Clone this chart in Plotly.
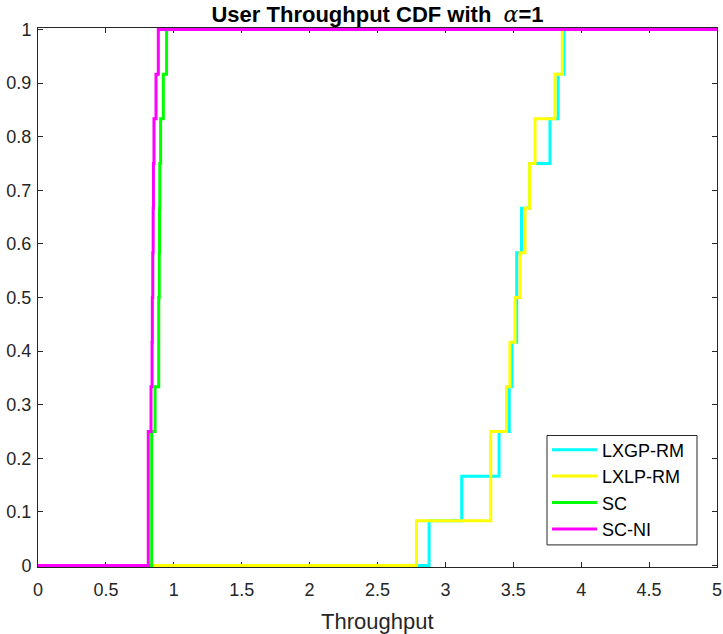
import plotly.graph_objects as go

# Sorted per-user throughput samples (12 users); CDF jumps by 1/12 at each
lxgp_rm = [2.88, 3.12, 3.395, 3.47, 3.49, 3.525, 3.525, 3.56, 3.62, 3.77, 3.83, 3.873]
lxlp_rm = [2.787, 3.334, 3.334, 3.45, 3.475, 3.513, 3.55, 3.586, 3.62, 3.66, 3.807, 3.861]
sc = [0.837, 0.837, 0.837, 0.862, 0.889, 0.889, 0.893, 0.895, 0.897, 0.903, 0.923, 0.947]
sc_ni = [0.812, 0.812, 0.812, 0.832, 0.84, 0.842, 0.845, 0.848, 0.85, 0.854, 0.869, 0.886]

names = ["LXGP-RM", "LXLP-RM", "SC", "SC-NI"]
colors = ["#00FFFF", "#FFFF00", "#00FF00", "#FF00FF"]
series = [lxgp_rm, lxlp_rm, sc, sc_ni]

x_min, x_max = 0, 5
x_ticks = [0, 0.5, 1, 1.5, 2, 2.5, 3, 3.5, 4, 4.5, 5]
y_ticks = [0, 0.1, 0.2, 0.3, 0.4, 0.5, 0.6, 0.7, 0.8, 0.9, 1]

FONT = "Liberation Sans, Arial, Helvetica"
PAD = 1.5 / 537  # half line width so lines on y=0 / y=1 are not clipped

fig = go.Figure()
for name, color, vals in zip(names, colors, series):
    n = len(vals)
    xs = [x_min] + list(vals) + [x_max]
    ys = [0] + [(k + 1) / n for k in range(n)] + [1]
    fig.add_trace(go.Scatter(x=xs, y=ys, mode="lines", name=name,
                             line=dict(color=color, width=3, shape="hv")))

axis_common = dict(showline=True, linecolor="#262626", linewidth=1, mirror="ticks",
                   ticks="inside", ticklen=5, tickcolor="#262626", tickwidth=1,
                   showgrid=False, zeroline=False, automargin=False, layer="below traces",
                   tickfont=dict(family=FONT, size=18, color="#262626"))

# legend box (paper coordinates of the plot area)
def px_x(p):
    return (p - 38) / 679

def px_y(p):
    return (566 - p) / 537

fig.update_layout(
    width=723, height=634,
    margin=dict(l=38, r=6, t=27.5, b=66.5),
    paper_bgcolor="white", plot_bgcolor="white",
    title=dict(text="<b>User Throughput CDF with  <span style='font-family:DejaVu Serif;font-style:italic;font-weight:normal'>α</span>=1</b>",
               x=(38 + 717) / 2 / 723, xanchor="center", y=1 - 14 / 634, yanchor="middle",
               font=dict(family=FONT, size=22, color="black")),
    xaxis=dict(range=[x_min, x_max], tickvals=x_ticks, ticktext=[f"{v:g}" for v in x_ticks],
               ticklabelstandoff=6, **axis_common),
    yaxis=dict(range=[-PAD, 1 + PAD], tickvals=y_ticks, ticktext=[f"{v:g}" for v in y_ticks],
               ticklabelstandoff=2, **axis_common),
    annotations=[dict(text="Throughput", xref="paper", yref="paper", x=0.5, y=-54 / 537,
                      xanchor="center", yanchor="middle", showarrow=False,
                      font=dict(family=FONT, size=22, color="#262626"))],
    shapes=[dict(type="rect", xref="paper", yref="paper",
                 x0=px_x(547), x1=px_x(697), y0=px_y(544), y1=px_y(435),
                 fillcolor="white", line=dict(color="#262626", width=1), layer="above")],
    legend=dict(x=px_x(547), y=px_y(431), xanchor="left", yanchor="top",
                bgcolor="rgba(0,0,0,0)", borderwidth=0,
                font=dict(family=FONT, size=18, color="black"),
                itemwidth=45, tracegroupgap=0),
    showlegend=True,
)

fig.write_html("out.html")
